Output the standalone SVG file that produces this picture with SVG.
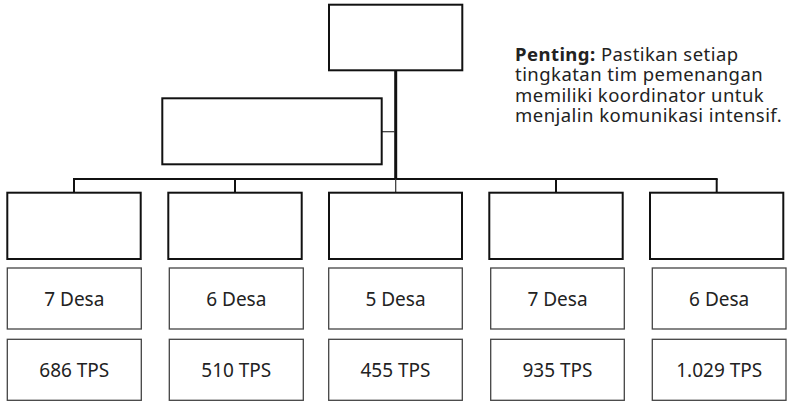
<svg xmlns="http://www.w3.org/2000/svg" width="787" height="401" viewBox="0 0 787 401">
<style>
.org{fill:#fff;stroke:#111;stroke-width:2}
.info{fill:#fff;stroke:#444;stroke-width:1.3}
.lbl{font-family:"Noto Sans","Open Sans",sans-serif;font-size:19px;fill:#222;text-anchor:middle}
.note{font-family:"Noto Sans","Open Sans",sans-serif;font-size:18.5px;letter-spacing:0.45px;fill:#222}
.ln{stroke:#111;stroke-width:2;fill:none}
.thin{stroke:#333;stroke-width:1.2;fill:none}
</style>
<rect width="787" height="401" fill="#fff"/>
<g id="connectors">
<line class="ln" x1="395.7" y1="70" x2="395.7" y2="179" style="stroke-width:3"/>
<line class="thin" x1="381.7" y1="131.7" x2="395" y2="131.7"/>
<line class="ln" x1="73" y1="179" x2="717.7" y2="179"/>
<line class="ln" x1="74" y1="179" x2="74" y2="193"/>
<line class="ln" x1="235" y1="179" x2="235" y2="193"/>
<line class="thin" x1="395.7" y1="179" x2="395.7" y2="193"/>
<line class="ln" x1="556" y1="179" x2="556" y2="193"/>
<line class="ln" x1="716.7" y1="179" x2="716.7" y2="193"/>
</g>
<g id="top"><rect class="org" x="329" y="4.7" width="133.3" height="65.6"/></g>
<g id="second"><rect class="org" x="162.3" y="98.3" width="219.4" height="66"/></g>
<g id="note"><text class="note" x="515" y="60.5"><tspan font-weight="bold">Penting:</tspan> Pastikan setiap</text><text class="note" x="515" y="81">tingkatan tim pemenangan</text><text class="note" x="515" y="101.5">memiliki koordinator untuk</text><text class="note" x="515" y="122">menjalin komunikasi intensif.</text></g>
<g id="unit1"><rect class="org" x="7.3" y="192.7" width="133.4" height="66.3"/></g>
<g id="unit2"><rect class="org" x="168.3" y="192.7" width="133.4" height="66.3"/></g>
<g id="unit3"><rect class="org" x="329" y="192.7" width="133" height="66.3"/></g>
<g id="unit4"><rect class="org" x="489.3" y="192.7" width="133.4" height="66.3"/></g>
<g id="unit5"><rect class="org" x="650" y="192.7" width="133.3" height="66.3"/></g>
<g id="desa1"><rect class="info" x="7.3" y="268" width="134" height="61"/><text class="lbl" x="74.3" y="305.5">7 Desa</text></g>
<g id="desa2"><rect class="info" x="169.3" y="268" width="134" height="61"/><text class="lbl" x="236.3" y="305.5">6 Desa</text></g>
<g id="desa3"><rect class="info" x="328.7" y="268" width="133.6" height="61"/><text class="lbl" x="395.5" y="305.5">5 Desa</text></g>
<g id="desa4"><rect class="info" x="490.7" y="268" width="133.6" height="61"/><text class="lbl" x="557.5" y="305.5">7 Desa</text></g>
<g id="desa5"><rect class="info" x="652.3" y="268" width="133.7" height="61"/><text class="lbl" x="719.2" y="305.5">6 Desa</text></g>
<g id="tps1"><rect class="info" x="7.3" y="339.3" width="134" height="61"/><text class="lbl" x="74.3" y="377">686 TPS</text></g>
<g id="tps2"><rect class="info" x="169.3" y="339.3" width="134" height="61"/><text class="lbl" x="236.3" y="377">510 TPS</text></g>
<g id="tps3"><rect class="info" x="328.7" y="339.3" width="133.6" height="61"/><text class="lbl" x="395.5" y="377">455 TPS</text></g>
<g id="tps4"><rect class="info" x="490.7" y="339.3" width="133.6" height="61"/><text class="lbl" x="557.5" y="377">935 TPS</text></g>
<g id="tps5"><rect class="info" x="652.3" y="339.3" width="133.7" height="61"/><text class="lbl" x="719.2" y="377">1.029 TPS</text></g>
</svg>
